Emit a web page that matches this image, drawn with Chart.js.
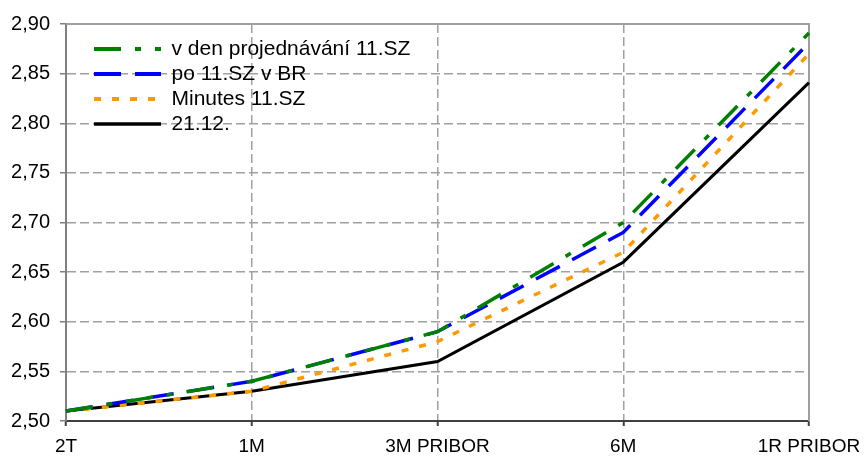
<!DOCTYPE html>
<html>
<head>
<meta charset="utf-8">
<script src="https://cdn.jsdelivr.net/npm/chart.js@4"></script>
<style>
  html, body { margin: 0; padding: 0; background: #fff; }
  #wrap { width: 865px; height: 460px; }
</style>
</head>
<body>
<div id="wrap"><canvas id="c" width="865" height="460"></canvas></div>
<script>
const categories = ['2T', '1M', '3M PRIBOR', '6M', '1R PRIBOR'];
const seriesNames = ['v den projednávání 11.SZ', 'po 11.SZ v BR', 'Minutes 11.SZ', '21.12.'];
const greenValues = [2.51, 2.54, 2.59, 2.70, 2.891];
const blueValues = [2.51, 2.54, 2.59, 2.69, 2.881];
const orangeValues = [2.51, 2.53, 2.58, 2.67, 2.87];
const blackValues = [2.51, 2.53, 2.56, 2.66, 2.841];
const yMin = 2.50, yMax = 2.90, yStep = 0.05;

const FONT = '"Liberation Sans", Arial, sans-serif';

const plotBorder = {
  id: 'plotBorder',
  beforeDatasetsDraw(chart) {
    const a = chart.chartArea, ctx = chart.ctx;
    ctx.save();
    ctx.strokeStyle = '#a0a0a0';
    ctx.lineWidth = 2;
    ctx.setLineDash([]);
    ctx.beginPath();
    ctx.moveTo(a.left, a.top);
    ctx.lineTo(a.right, a.top);
    ctx.lineTo(a.right, a.bottom);
    ctx.stroke();
    ctx.restore();
  }
};

const legendShift = {
  id: 'legendShift',
  afterLayout(chart) {
    const lg = chart.legend;
    if (!lg) return;
    lg.left = 90; lg.top = 34.5;
    lg.right = lg.left + lg.width; lg.bottom = lg.top + lg.height;
  }
};

function ds(label, data, color, dash, width) {
  return {
    label, data, borderColor: color, backgroundColor: color,
    borderDash: dash, borderWidth: width, pointRadius: 0, tension: 0,
    fill: false, borderCapStyle: 'butt'
  };
}

new Chart(document.getElementById('c'), {
  type: 'line',
  data: {
    labels: categories,
    datasets: [
      ds(seriesNames[0], greenValues, '#008000', [27, 14, 6, 14], 3.5),
      ds(seriesNames[1], blueValues, '#0000ff', [27, 14], 3.5),
      ds(seriesNames[2], orangeValues, '#ff9900', [7, 11], 3.5),
      ds(seriesNames[3], blackValues, '#000000', [], 3)
    ]
  },
  options: {
    responsive: false,
    animation: false,
    layout: { padding: { left: 10, right: 0, top: 24, bottom: 0 } },
    plugins: {
      tooltip: { enabled: false },
      legend: {
        position: 'chartArea',
        align: 'start',
        labels: {
          usePointStyle: true,
          pointStyle: 'line',
          pointStyleWidth: 67,
          boxWidth: 67,
          padding: 4,
          color: '#000',
          font: { family: FONT, size: 21 },
          generateLabels(chart) {
            return chart.data.datasets.map((d, i) => ({
              text: d.label,
              fillStyle: d.borderColor,
              strokeStyle: d.borderColor,
              lineWidth: d.borderWidth + 0.5,
              lineDash: d.borderDash,
              lineCap: 'butt',
              pointStyle: 'line',
              fontColor: '#000',
              hidden: false,
              datasetIndex: i
            }));
          }
        }
      }
    },
    scales: {
      x: {
        offset: false,
        afterFit: s => { s.height = 39; s.paddingRight = 56; s.paddingLeft = 0; },
        grid: {
          color: '#a0a0a0', lineWidth: 1.5,
          tickBorderDash: [], tickColor: '#404040', tickLength: 5, tickWidth: 2, drawTicks: true
        },
        border: { color: '#404040', width: 2, dash: [9, 4] },
        ticks: { color: '#000', padding: 9.5, font: { family: FONT, size: 19 }, maxRotation: 0, autoSkip: false }
      },
      y: {
        min: yMin, max: yMax,
        afterFit: s => { s.width = 56; },
        grid: {
          color: '#a0a0a0', lineWidth: 1.5,
          tickBorderDash: [], tickColor: '#808080', tickLength: 6
        },
        border: { color: '#808080', width: 2, dash: [9, 4] },
        ticks: {
          stepSize: yStep, color: '#000', padding: 10,
          font: { family: FONT, size: 20 },
          callback: v => v.toFixed(2).replace('.', ',')
        }
      }
    }
  },
  plugins: [plotBorder, legendShift]
});
</script>
</body>
</html>
